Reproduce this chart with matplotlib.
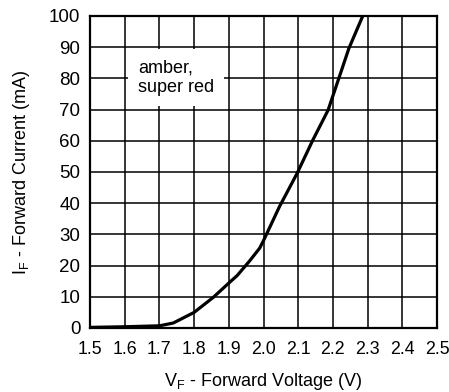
import matplotlib
matplotlib.use("Agg")
import matplotlib.pyplot as plt

plt.rcParams['font.family'] = ['Liberation Sans', 'DejaVu Sans']

vf = [1.5, 1.6, 1.7, 1.74, 1.8, 1.855, 1.9, 1.924, 1.96, 1.989, 2.0, 2.046, 2.097, 2.142, 2.186, 2.217, 2.246, 2.286]
i_f = [0.2, 0.4, 0.7, 1.6, 5.0, 9.8, 14.4, 16.8, 21.5, 25.6, 28.0, 38.9, 49.6, 60.2, 69.8, 80.0, 89.6, 100.0]
xticks = [1.5, 1.6, 1.7, 1.8, 1.9, 2.0, 2.1, 2.2, 2.3, 2.4, 2.5]
yticks = [0, 10, 20, 30, 40, 50, 60, 70, 80, 90, 100]

fig = plt.figure(figsize=(4.49, 3.92), dpi=100)
ax = fig.add_axes([90/449, 1-328/392, (437-90)/449, (328-16)/392])
ax.set_xlim(1.5, 2.5)
ax.set_ylim(0, 100)
ax.set_xticks(xticks)
ax.set_xticklabels([f"{v:.1f}" for v in xticks])
ax.set_yticks(yticks)
ax.set_yticklabels([str(v) for v in yticks])
ax.grid(True, color='black', linewidth=1.1)
ax.set_axisbelow(True)
ax.tick_params(length=0)
ax.tick_params(axis='x', pad=9, labelsize=12.8)
ax.tick_params(axis='y', pad=7, labelsize=13.5)
for s in ax.spines.values():
    s.set_linewidth(1.6)
ax.plot(vf, i_f, color='black', linewidth=2.3, solid_capstyle='butt', zorder=3)
ax.text(1.638, 80.3, "amber,\nsuper red", fontsize=13, va='center', ha='left',
        linespacing=1.2,
        bbox=dict(facecolor='white', edgecolor='none', pad=7), zorder=4)
ax.set_xlabel(r"V$_\mathregular{F}$ - Forward Voltage (V)", fontsize=13, labelpad=10)
ax.set_ylabel(r"I$_\mathregular{F}$ - Forward Current (mA)", fontsize=13, labelpad=12)
fig.savefig("out.png", dpi=100)
